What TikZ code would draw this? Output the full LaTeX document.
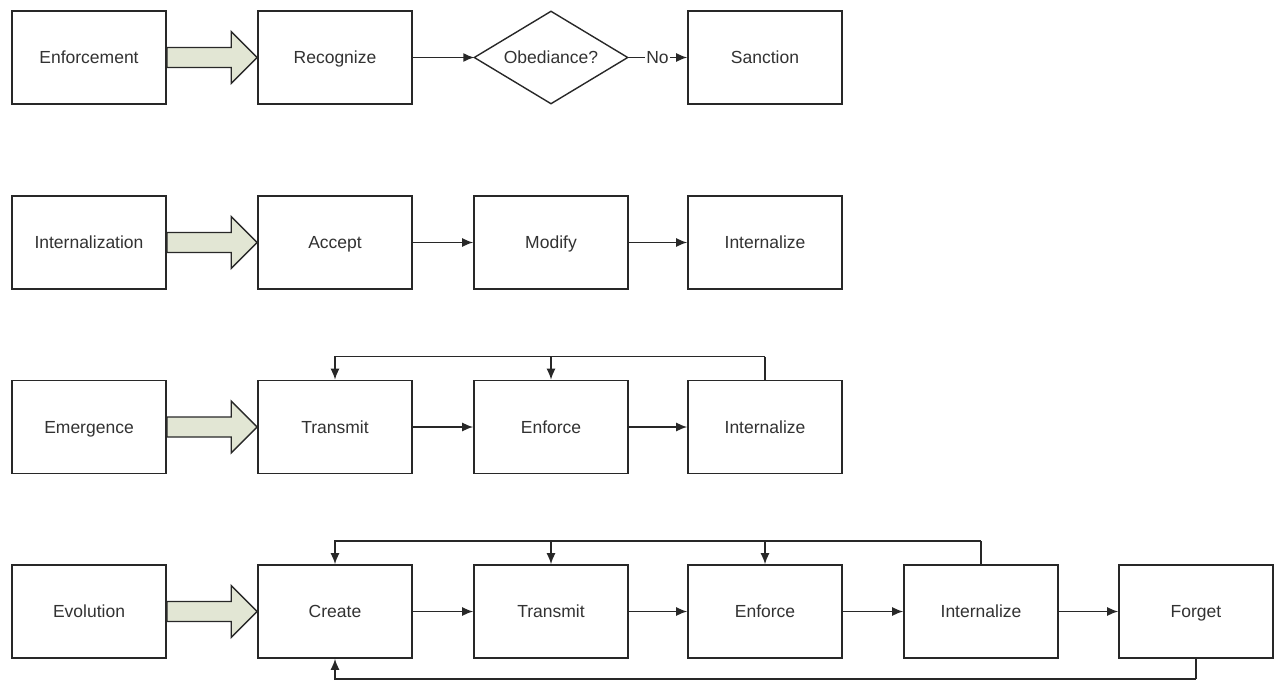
\documentclass[tikz,border=0pt]{standalone}
\usepackage{fontspec}
\setmainfont{Liberation Sans}
\usetikzlibrary{arrows.meta,calc}
\definecolor{ink}{RGB}{40,40,40}
\definecolor{txt}{RGB}{50,50,50}
\definecolor{arrowfill}{RGB}{226,230,212}
\begin{document}
\begin{tikzpicture}[x=1pt,y=-1pt,
  lbl/.style={text=txt, font=\fontsize{17.5}{20}\selectfont, text height=12.5pt, text depth=0pt},
  box/.style={draw=ink, line width=1.6pt, fill=white, minimum width=154pt, minimum height=93pt, inner sep=0pt, lbl},
  decision/.style={minimum width=153pt, minimum height=92pt, inner sep=0pt, lbl},
  diamondline/.style={draw=ink, line width=1.4pt, line join=miter},
  conn/.style={draw=ink, line width=1.5pt, -{Latex[length=11pt,width=9pt]}},
  line/.style={draw=ink, line width=1.5pt},
  big/.style={draw=ink, line width=1.4pt, fill=arrowfill, line join=miter},
]
\useasboundingbox (0,0) rectangle (1279,680);

% row 1
\node[box] (enf) at (89,57.5) {Enforcement};
\node[box] (rec) at (335,57.5) {Recognize};
\node[decision] (obe) at (551,57.5) {Obediance?};
\draw[diamondline] (obe.north) -- (obe.east) -- (obe.south) -- (obe.west) -- cycle;
\node[box] (san) at (765,57.5) {Sanction};
% row 2
\node[box] (int) at (89,242.5) {Internalization};
\node[box] (acc) at (335,242.5) {Accept};
\node[box] (mod) at (551,242.5) {Modify};
\node[box] (inz2) at (765,242.5) {Internalize};
% row 3
\node[box] (eme) at (89,427) {Emergence};
\node[box] (tra3) at (335,427) {Transmit};
\node[box] (enf3) at (551,427) {Enforce};
\node[box] (inz3) at (765,427) {Internalize};
% row 4
\node[box] (evo) at (89,611.5) {Evolution};
\node[box] (cre) at (335,611.5) {Create};
\node[box] (tra4) at (551,611.5) {Transmit};
\node[box] (enf4) at (765,611.5) {Enforce};
\node[box] (inz4) at (981,611.5) {Internalize};
\node[box] (for) at (1196,611.5) {Forget};

% big arrows
\foreach \a/\b in {enf/rec, int/acc, eme/tra3, evo/cre}{
  \draw[big] ($(\a.east)+(0,-10)$) -- ($(\b.west)+(-26,-10)$) -- ($(\b.west)+(-26,-26)$)
    -- (\b.west) -- ($(\b.west)+(-26,26)$) -- ($(\b.west)+(-26,10)$) -- ($(\a.east)+(0,10)$) -- cycle;
}

% row 1 connectors
\draw[conn] (rec) -- (obe.west);
\draw[conn] (obe.east) -- node[fill=white, inner sep=1pt, lbl]{No} (san);
% row 2
\draw[conn] (acc) -- (mod);
\draw[conn] (mod) -- (inz2);
% row 3
\draw[conn] (tra3) -- (enf3);
\draw[conn] (enf3) -- (inz3);
\coordinate (t3) at ($(inz3.north)+(0,-23)$);
\draw[line] (inz3.north) -- (t3);
\draw[conn] (t3) -| (tra3.north);
\draw[conn] (t3) -| (enf3.north);
% row 4
\draw[conn] (cre) -- (tra4);
\draw[conn] (tra4) -- (enf4);
\draw[conn] (enf4) -- (inz4);
\draw[conn] (inz4) -- (for);
\coordinate (t4) at ($(inz4.north)+(0,-23)$);
\draw[line] (inz4.north) -- (t4);
\draw[conn] (t4) -| (cre.north);
\draw[conn] (t4) -| (tra4.north);
\draw[conn] (t4) -| (enf4.north);
\coordinate (b4) at ($(for.south)+(0,20)$);
\draw[line] (for.south) -- (b4);
\draw[conn] (b4) -| (cre.south);
\end{tikzpicture}
\end{document}
